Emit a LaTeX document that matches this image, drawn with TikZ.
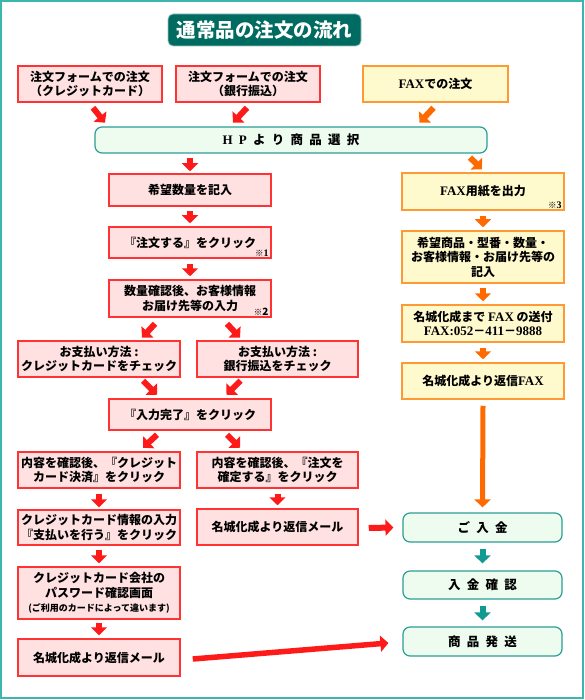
\documentclass[tikz,border=0pt]{standalone}
\usepackage{fontspec}
\setmainfont{Noto Sans CJK JP}
\newfontfamily\latinf{Liberation Serif}
\usetikzlibrary{arrows.meta,calc}
\definecolor{frameteal}{HTML}{3DB6AF}
\definecolor{titlefill}{HTML}{006B60}
\definecolor{boxred}{HTML}{FF3333}
\definecolor{boxpink}{HTML}{FFE1E1}
\definecolor{boxorange}{HTML}{FF9933}
\definecolor{boxyellow}{HTML}{FFFACD}
\definecolor{tealbox}{HTML}{2A9E97}
\definecolor{mint}{HTML}{EEFCF0}
\definecolor{arrred}{HTML}{FF1A1A}
\definecolor{arrorange}{HTML}{FF6A00}
\definecolor{arrteal}{HTML}{129A92}
\newcommand\lsp{\hspace{0.5em}}
\newcommand\lat[1]{{\latinf\fontsize{13}{14.5}\selectfont #1}}
\tikzset{
 pinkbox/.style={draw=boxred,fill=boxpink,line width=1.5pt,align=center,inner sep=0pt,font=\fontsize{12}{14.5}\selectfont\bfseries,text=black},
 yelbox/.style={pinkbox,draw=boxorange,fill=boxyellow},
 mintbox/.style={draw=tealbox,fill=mint,line width=1.2pt,rounded corners=7pt,align=center,inner sep=0pt,font=\fontsize{12.5}{15}\selectfont\bfseries},
 notetext/.style={font=\fontsize{8.5}{10}\selectfont\bfseries,inner sep=0pt,anchor=south east},
 arr/.style={line width=6pt,-{Triangle[width=16pt,length=8pt]}},
 redarr/.style={arr,draw=arrred},
 orarr/.style={arr,draw=arrorange},
 tlarr/.style={arr,draw=arrteal},
 lcol/.style={minimum width=162pt},
}
\begin{document}
\begin{tikzpicture}[x=1pt,y=-1pt]
\useasboundingbox (0,0) rectangle (585,700);
\draw[frameteal,line width=2pt,fill=white] (1,1) rectangle (583,698);
% title
\node[draw=titlefill!40,line width=0.8pt,fill=titlefill,rounded corners=5pt,minimum width=193pt,minimum height=32pt,inner sep=0pt,text=white,font=\fontsize{19.5}{22}\selectfont\bfseries] (title) at (264.5,30) {通常品の注文の流れ};
% top row
\node[pinkbox,minimum width=144pt,minimum height=36pt] (a) at (90,84) {注文フォームでの注文\\（クレジットカード）};
\node[pinkbox,minimum width=144pt,minimum height=36pt] (b) at (248,84) {注文フォームでの注文\\（銀行振込）};
\node[yelbox,minimum width=145pt,minimum height=36pt] (c) at (435.5,84) {\lat{FAX}での注文};
\node[mintbox,minimum width=392pt,minimum height=26pt] (hp) at (291,140) {\lat{H}\lsp\lat{P}\lsp よ\lsp り\lsp 商\lsp 品\lsp 選\lsp 択};
% left column
\node[pinkbox,lcol,minimum height=32pt] (q1) at (190,190) {希望数量を記入};
\node[pinkbox,lcol,minimum height=31pt] (q2) at (190,242.5) {『注文する』をクリック};
\node[notetext] (n1) at ($(q2.south east)+(-3,-2)$) {※{\latinf\fontsize{10}{11}\selectfont 1}};
\node[pinkbox,lcol,minimum height=37pt] (q3) at (190,298.5) {数量確認後、お客様情報\\お届け先等の入力};
\node[notetext] (n2) at ($(q3.south east)+(-3,-2)$) {※{\fontsize{10}{11}\selectfont 2}};
\node[pinkbox,lcol,minimum height=36pt] (p1) at (99,359) {お支払い方法 :\\クレジットカードをチェック};
\node[pinkbox,minimum width=161pt,minimum height=36pt] (p2) at (277.5,359) {お支払い方法 :\\銀行振込をチェック};
\node[pinkbox,lcol,minimum height=31pt] (q4) at (190,414.5) {『入力完了』をクリック};
\node[pinkbox,lcol,minimum height=36pt] (r1) at (99,470) {内容を確認後、『クレジット\\カード決済』をクリック};
\node[pinkbox,minimum width=161pt,minimum height=36pt] (r2) at (277.5,470) {内容を確認後、『注文を\\確定する』をクリック};
\node[pinkbox,lcol,minimum height=35pt] (s1) at (99,527.5) {クレジットカード情報の入力\\『支払いを行う』をクリック};
\node[pinkbox,minimum width=161pt,minimum height=36pt] (s2) at (277.5,527) {名城化成より返信メール};
\node[pinkbox,lcol,minimum height=52pt] (t1) at (99,593) {クレジットカード会社の\\パスワード確認画面\\{\fontsize{9}{11}\selectfont (ご利用のカードによって違います)}};
\node[pinkbox,lcol,minimum height=37pt] (u1) at (99,657.5) {名城化成より返信メール};
% right column
\node[yelbox,lcol,minimum height=37pt] (f1) at (483,191.5) {\lat{FAX}用紙を出力};
\node[notetext] (n3) at ($(f1.south east)+(-3,-2)$) {※{\latinf\fontsize{10}{11}\selectfont 3}};
\node[yelbox,lcol,minimum height=52pt] (f2) at (483,257) {希望商品・型番・数量・\\お客様情報・お届け先等の\\記入};
\node[yelbox,lcol,minimum height=37pt] (f3) at (483,323.5) {名城化成まで \lat{FAX} の送付\\\lat{FAX:052}－\lat{411}－\lat{9888}};
\node[yelbox,lcol,minimum height=36pt] (f4) at (483,381) {名城化成より返信\lat{FAX}};
\node[mintbox,minimum width=159pt,minimum height=29pt] (g1) at (482.5,527.5) {ご\lsp 入\lsp 金};
\node[mintbox,minimum width=159pt,minimum height=28pt] (g2) at (482.5,585) {入\lsp 金\lsp 確\lsp 認};
\node[mintbox,minimum width=159pt,minimum height=29pt] (g3) at (482.5,641.5) {商\lsp 品\lsp 発\lsp 送};
% arrows top
\draw[redarr] ($(a.south)+(3,5)$) -- ($(a.south)+(15,20)$);
\draw[redarr] ($(b.south)+(-1,5)$) -- ($(b.south)+(-15,20)$);
\draw[orarr] ($(c.south)+(-2,5)$) -- ($(c.south)+(-16,20)$);
\draw[redarr] ($(hp.south -| q1.north)+(0,4)$) -- ($(q1.north)+(0,-2)$);
\draw[orarr] ($(hp.south)+(179,4)$) -- ($(f1.north)+(-1,-3)$);
\draw[redarr] ($(q1.south)+(0,4)$) -- ($(q2.north)+(0,-3)$);
\draw[redarr] ($(q2.south)+(0,5)$) -- ($(q3.north)+(0,-3)$);
\draw[redarr] ($(q3.south)+(-35,6)$) -- ($(q3.south)+(-48,20)$);
\draw[redarr] ($(q3.south)+(37,6)$) -- ($(q3.south)+(50,20)$);
\draw[redarr] ($(p1.south)+(44,3)$) -- ($(p1.south)+(58,17)$);
\draw[redarr] ($(p2.south)+(-37,3)$) -- ($(p2.south)+(-51,17)$);
\draw[redarr] ($(q4.south)+(-33,4)$) -- ($(q4.south)+(-47,17)$);
\draw[redarr] ($(q4.south)+(37,4)$) -- ($(q4.south)+(50,17)$);
\draw[redarr] ($(r1.south)+(0,5)$) -- ($(s1.north)+(0,-2)$);
\draw[redarr] ($(r2.south)+(0,5)$) -- ($(s2.north)+(0,-3)$);
\draw[redarr] ($(s1.south)+(0,4)$) -- ($(t1.north)+(0,-3)$);
\draw[redarr] ($(t1.south)+(0,3)$) -- ($(u1.north)+(0,-3)$);
\draw[redarr] ($(s2.east)+(10,1)$) -- ($(g1.west)+(-9,0)$);
\draw[redarr,line width=5.5pt] ($(u1.east)+(12,1.5)$) -- ($(g3.west)+(-14,1.5)$);
% right arrows
\draw[orarr] ($(f1.south)+(0,5)$) -- ($(f2.north)+(0,-3)$);
\draw[orarr] ($(f2.south)+(0,4)$) -- ($(f3.north)+(0,-3)$);
\draw[orarr] ($(f3.south)+(0,5)$) -- ($(f4.north)+(0,-3)$);
\draw[orarr,line width=5pt] ($(f4.south)+(0,6)$) -- ($(g1.north)+(0,-5)$);
\draw[tlarr] ($(g1.south)+(0,6)$) -- ($(g2.north)+(0,-7)$);
\draw[tlarr] ($(g2.south)+(0,6)$) -- ($(g3.north)+(0,-6)$);
\end{tikzpicture}
\end{document}
